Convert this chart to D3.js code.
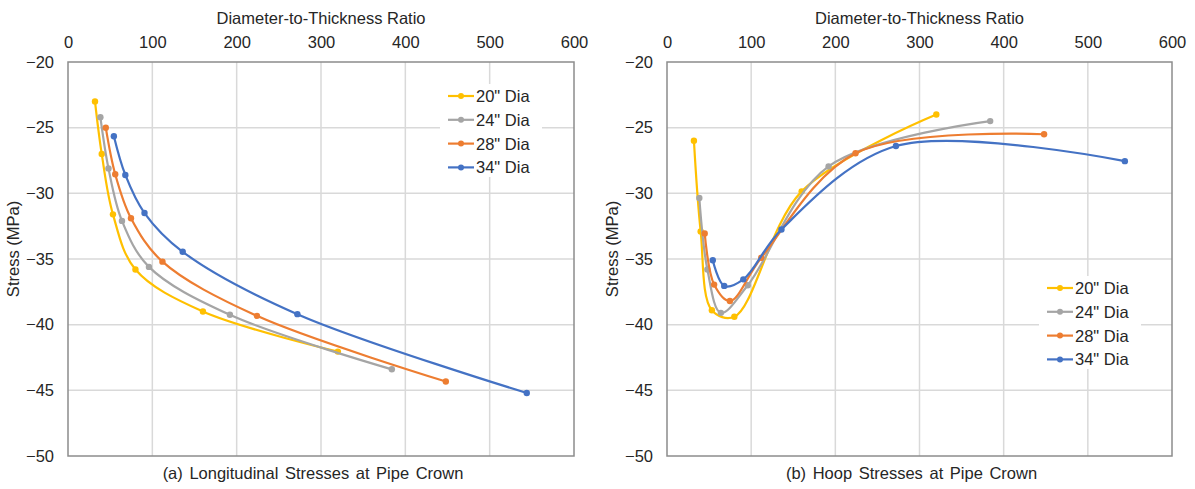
<!DOCTYPE html>
<html>
<head>
<meta charset="utf-8">
<script src="https://cdn.jsdelivr.net/npm/d3@7"></script>
<style>
  body { margin: 0; background: #fff; }
  svg { font-family: "Liberation Sans", Arial, sans-serif; }
  .tick text { fill: #262626; font-size: 16.5px; }
</style>
</head>
<body>
<script>
// tick values
var xTicks = [0, 100, 200, 300, 400, 500, 600];
var yTicks = [-20, -25, -30, -35, -40, -45, -50];

// series names + colours
var seriesNames = ['20" Dia', '24" Dia', '28" Dia', '34" Dia'];
var seriesColors = ["#FFC000", "#A5A5A5", "#ED7D31", "#4472C4"];

// diameter-to-thickness ratios per pipe size
var ratio20 = [32, 40, 53.3, 80, 160, 320];
var ratio24 = [38.4, 48, 64, 96, 192, 384];
var ratio28 = [44.8, 56, 74.7, 112, 224, 448];
var ratio34 = [54.4, 68, 90.7, 136, 272, 544];

// (a) longitudinal stresses, MPa
var long20 = [-23.0, -27.0, -31.6, -35.8, -39.0, -42.05];
var long24 = [-24.2, -28.1, -32.1, -35.6, -39.25, -43.4];
var long28 = [-25.0, -28.55, -31.9, -35.2, -39.33, -44.33];
var long34 = [-25.65, -28.6, -31.5, -34.45, -39.2, -45.2];

// (b) hoop stresses, MPa
var hoop20 = [-26.0, -32.9, -38.9, -39.4, -29.85, -24.0];
var hoop24 = [-30.35, -35.8, -39.1, -37.0, -27.95, -24.5];
var hoop28 = [-33.05, -36.95, -38.2, -34.9, -26.95, -25.5];
var hoop34 = [-35.1, -37.05, -36.55, -32.75, -26.4, -27.55];

var ratios = [ratio20, ratio24, ratio28, ratio34];

var svg = d3.select("body")
  .append("svg")
  .attr("width", 1195)
  .attr("height", 489);

function drawPanel(opts) {
  var x = d3.scaleLinear().domain([0, 600]).range([opts.left, opts.right]);
  var y = d3.scaleLinear().domain([-20, -50]).range([62, 456]);

  var g = svg.append("g");

  // gridlines
  g.selectAll(".vgrid").data(xTicks.slice(1, -1)).enter()
    .append("line")
    .attr("x1", d => x(d)).attr("x2", d => x(d))
    .attr("y1", y(-20)).attr("y2", y(-50))
    .attr("stroke", "#d9d9d9").attr("stroke-width", 1.5);
  g.selectAll(".hgrid").data(yTicks.slice(1, -1)).enter()
    .append("line")
    .attr("x1", x(0)).attr("x2", x(600))
    .attr("y1", d => y(d)).attr("y2", d => y(d))
    .attr("stroke", "#d9d9d9").attr("stroke-width", 1.5);

  // plot border
  g.append("rect")
    .attr("x", x(0)).attr("y", y(-20))
    .attr("width", x(600) - x(0)).attr("height", y(-50) - y(-20))
    .attr("fill", "none").attr("stroke", "#8c8c8c").attr("stroke-width", 1.5);

  var topAxis = d3.axisTop(x).tickValues(xTicks).tickSize(0).tickPadding(14);
  g.append("g")
    .attr("transform", "translate(0," + y(-20) + ")")
    .call(topAxis)
    .call(a => a.select(".domain").remove());

  var leftAxis = d3.axisLeft(y).tickValues(yTicks).tickSize(0).tickPadding(14);
  g.append("g")
    .attr("transform", "translate(" + x(0) + ",0)")
    .call(leftAxis)
    .call(a => a.select(".domain").remove());

  // axis titles
  g.append("text")
    .attr("x", (x(0) + x(600)) / 2).attr("y", 24)
    .attr("text-anchor", "middle").attr("fill", "#262626").attr("font-size", 16.5)
    .text("Diameter-to-Thickness Ratio");

  g.append("text")
    .attr("transform", "rotate(-90)")
    .attr("x", -249).attr("y", x(0) - 49)
    .attr("text-anchor", "middle").attr("fill", "#262626").attr("font-size", 16.5)
    .text("Stress (MPa)");

  g.append("text")
    .attr("x", (x(0) + x(600)) / 2 - 8).attr("y", 479)
    .attr("text-anchor", "middle").attr("fill", "#262626").attr("font-size", 16.5)
    .attr("word-spacing", "2px")
    .text(opts.caption);

  var drawLine = d3.line()
    .x(d => x(d[0]))
    .y(d => y(d[1]))
    .curve(d3.curveCatmullRom.alpha(0.5));

  opts.stress.forEach(function(vals, i) {
    var pts = ratios[i].map((r, j) => [r, vals[j]]);
    g.append("path")
      .attr("d", drawLine(pts))
      .attr("fill", "none")
      .attr("stroke", seriesColors[i])
      .attr("stroke-width", 2.2);
    g.selectAll(".pt" + i).data(pts).enter()
      .append("circle")
      .attr("cx", d => x(d[0])).attr("cy", d => y(d[1]))
      .attr("r", 3.2)
      .attr("fill", seriesColors[i]);
  });

  // legend
  var lg = g.append("g").attr("transform", `translate(${opts.legX}, ${opts.legY})`);
  lg.append("rect")
    .attr("x", -8).attr("y", -12)
    .attr("width", 102).attr("height", 93)
    .attr("fill", "#fff");
  seriesNames.forEach(function(name, i) {
    var row = lg.append("g").attr("transform", "translate(0," + i * 23.8 + ")");
    row.append("line")
      .attr("x1", 0).attr("x2", 26).attr("y1", 0).attr("y2", 0)
      .attr("stroke", seriesColors[i]).attr("stroke-width", 2.2);
    row.append("circle").attr("cx", 13).attr("cy", 0).attr("r", 3).attr("fill", seriesColors[i]);
    row.append("text")
      .attr("x", 28).attr("y", 6)
      .attr("fill", "#262626").attr("font-size", 16.5)
      .text(name);
  });
}

drawPanel({
  left: 68, right: 574,
  stress: [long20, long24, long28, long34],
  caption: "(a) Longitudinal Stresses at Pipe Crown",
  legX: 448, legY: 96
});

drawPanel({
  left: 667, right: 1172,
  stress: [hoop20, hoop24, hoop28, hoop34],
  caption: "(b) Hoop Stresses at Pipe Crown",
  legX: 1047, legY: 288
});
</script>
</body>
</html>
